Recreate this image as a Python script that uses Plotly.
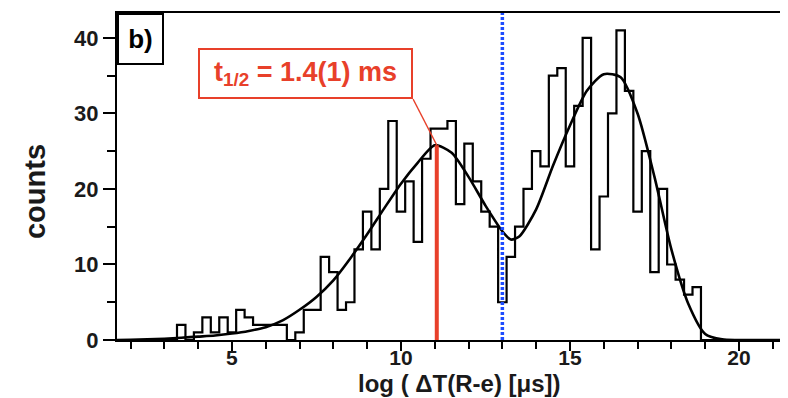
import plotly.graph_objects as go

# ---------------- data ----------------
bin_width = 0.25
first_bin_center = 1.75
counts = [0, 0, 0, 0, 0, 0, 0,
          2, 0, 1, 3, 1, 3, 1, 4, 3, 2,
          2, 2, 2, 0, 1, 4, 4, 11, 9, 4,
          5, 12, 17, 12, 20, 29, 17, 21, 13, 24,
          28, 28, 29, 18, 26, 21, 17, 15, 5, 11,
          15, 20, 25, 23, 35, 36, 23, 31, 40, 12,
          19, 30, 41, 33, 17, 25, 9, 20, 10, 8,
          6, 7,
          0, 0, 0, 0, 0, 0, 0, 0, 0, 0]

fit_x = [1.5, 2.0, 2.5, 3.0, 3.5, 4.0, 4.5, 5.0, 5.5, 6.0, 6.5, 7.0, 7.5, 8.0,
         8.5, 9.0, 9.5, 10.0, 10.5, 11.0, 11.5, 12.0, 12.5, 13.0, 13.25, 13.5, 14.0,
         14.5, 15.0, 15.5, 16.0, 16.5, 17.0, 17.5, 18.0, 18.5, 19.0, 19.5, 20.0,
         21.5]
fit_y = [0.0, 0.03, 0.08, 0.17, 0.3, 0.45, 0.6, 0.85, 1.2, 1.7, 2.6, 4.0, 5.7, 7.9,
         10.8, 14.0, 17.4, 20.7, 23.5, 25.8, 24.8, 21.6, 17.8, 14.4, 13.3, 13.7, 17.3,
         23.1, 28.4, 33.0, 35.2, 34.8, 30.0, 21.6, 12.0, 4.8, 0.8, 0.08, 0.0,
         0.0]

halflife_x = 11.06      # position of red marker line
halflife_peak = 25.8    # fit value at the marker
cut_x = 13.0            # blue dotted separation line
label_text = "<b>t<sub>1/2</sub> = 1.4(1) ms</b>"

x_range = [1.6, 21.45]
y_range = [0, 43.3]

# ---------------- figure ----------------
edges = [first_bin_center - bin_width / 2 + i * bin_width for i in range(len(counts) + 1)]
hist_y = counts + [counts[-1]]

RED = "#e8402a"
BLUE = "#1e4cff"
FONT = "Liberation Sans"
TXT = "#1a1a1a"

fig = go.Figure()
fig.add_trace(go.Scatter(x=edges, y=hist_y, mode="lines", line_shape="hv",
                         line=dict(color="black", width=2.2), showlegend=False,
                         hoverinfo="skip"))
fig.add_trace(go.Scatter(x=fit_x, y=fit_y, mode="lines", line_shape="spline",
                         line=dict(color="black", width=2.6, smoothing=0.7),
                         showlegend=False, hoverinfo="skip"))

# red half-life marker line
fig.add_shape(type="line", x0=halflife_x, x1=halflife_x, y0=0, y1=halflife_peak,
              xref="x", yref="y", line=dict(color=RED, width=4))
# blue dotted line
fig.add_shape(type="line", x0=cut_x, x1=cut_x, y0=0, y1=y_range[1],
              xref="x", yref="y", line=dict(color=BLUE, width=3.5, dash="3px,2px"))
# connector from label box to peak
fig.add_shape(type="line", x0=10.36, x1=halflife_x, y0=31.9, y1=halflife_peak,
              xref="x", yref="y", line=dict(color=RED, width=1.3))

fig.add_annotation(x=7.17, y=35.3, xref="x", yref="y", text=label_text,
                   showarrow=False, font=dict(family=FONT, size=27, color=RED),
                   bordercolor=RED, borderwidth=2, borderpad=0, bgcolor="white",
                   width=211, height=47, xanchor="center", yanchor="middle")

fig.add_annotation(x=0, y=1, xref="paper", yref="paper", text="<b>b)</b>",
                   showarrow=False, font=dict(family=FONT, size=26, color="black"),
                   bordercolor="black", borderwidth=2, borderpad=0, bgcolor="white",
                   width=43, height=48, xanchor="left", yanchor="top")

fig.add_annotation(x=-0.122, y=0.453, xref="paper", yref="paper", text="<b>counts</b>",
                   textangle=-90, showarrow=False, xanchor="center", yanchor="middle",
                   font=dict(family=FONT, size=29, color=TXT))
fig.add_annotation(x=0.51, y=-0.134, xref="paper", yref="paper",
                   text="<b>log ( ΔT(R-e) [μs])</b>", showarrow=False,
                   xanchor="center", yanchor="middle",
                   font=dict(family=FONT, size=24, color=TXT))

fig.update_xaxes(range=x_range, showgrid=False, zeroline=False,
                 showline=True, linecolor="black", linewidth=2, mirror=True,
                 ticks="outside", ticklen=9, tickwidth=2, tickcolor="black",
                 tick0=0, dtick=5, ticklabelstandoff=-11,
                 minor=dict(ticks="outside", ticklen=7, tickwidth=2, tickcolor="black", dtick=1),
                 tickfont=dict(family=FONT, size=21, color=TXT, weight="bold"))
fig.update_yaxes(range=y_range, showgrid=False, zeroline=False,
                 showline=True, linecolor="black", linewidth=2, mirror=False,
                 ticks="outside", ticklen=12, tickwidth=2, tickcolor="black",
                 tick0=0, dtick=10,
                 minor=dict(ticks="outside", ticklen=8, tickwidth=2, tickcolor="black", dtick=5),
                 tickfont=dict(family=FONT, size=22, color=TXT, weight="bold"))

# the page body adds an 8px offset, so the figure is 780x390 with margins reduced by 8
fig.update_layout(width=780, height=390, margin=dict(l=109, r=0, t=5, b=58),
                  plot_bgcolor="white", paper_bgcolor="white", showlegend=False)

fig.write_html("out.html")
